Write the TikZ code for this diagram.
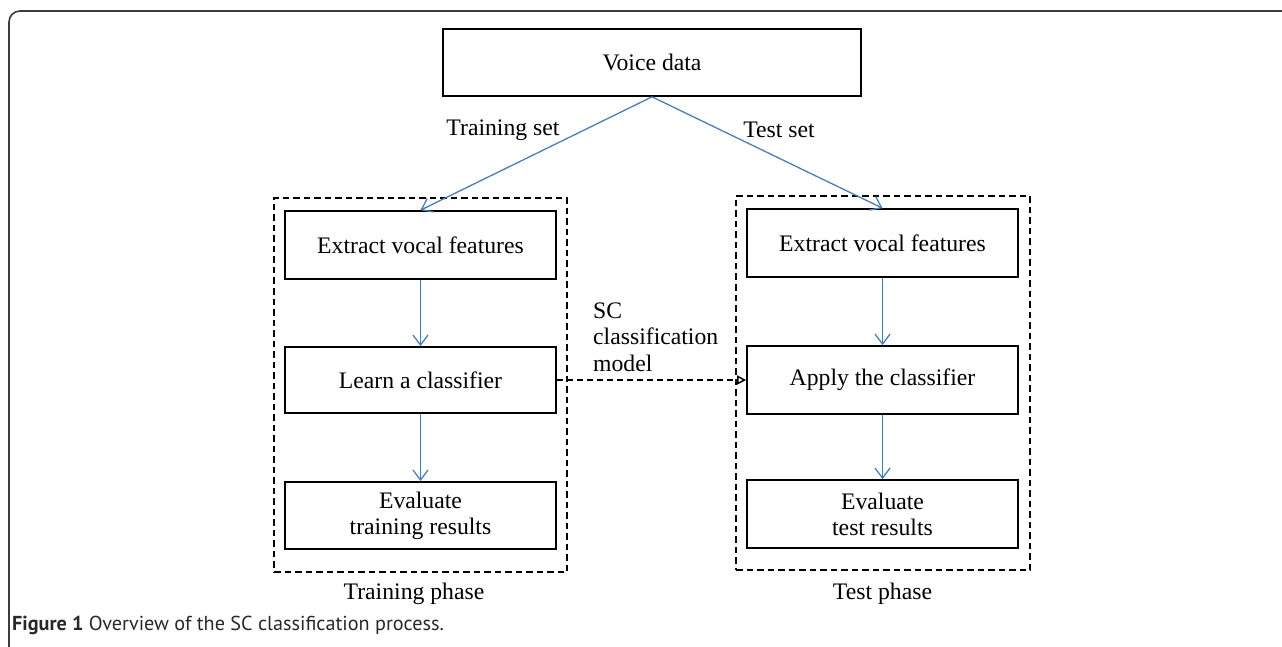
\documentclass[tikz,border=0pt]{standalone}
\usepackage{fontspec}
\setmainfont{Liberation Serif}
\newfontfamily\capfont{PT Sans}
\usetikzlibrary{arrows.meta}
\definecolor{flowblue}{RGB}{74,126,187}
\definecolor{framegray}{RGB}{60,60,60}
\definecolor{captext}{RGB}{40,40,40}
\tikzset{
  stepbox/.style={draw=black, line width=1.7pt, minimum width=271pt, minimum height=67pt,
    inner sep=0pt, align=center, font=\fontsize{23.7}{26}\selectfont},
  phasebox/.style={draw=black, line width=1.8pt, dash pattern=on 6.5pt off 4pt, inner sep=0pt},
  flow/.style={draw=flowblue, line width=1.3pt, -{Straight Barb[length=10pt,width=15pt,line width=1.3pt]}},
  transfer/.style={draw=black, line width=1.5pt, dash pattern=on 6pt off 4pt,
    -{Triangle[open,length=9pt,width=9pt,line width=1.5pt]}},
  lbl/.style={inner sep=0pt, font=\fontsize{23.7}{26.5}\selectfont}
}
\begin{document}
\begin{tikzpicture}[x=1pt,y=-1pt]
\useasboundingbox (0,0) rectangle (1282,647);
% panel frame
\draw[framegray, line width=1.6pt, rounded corners=11pt] (1290,11) -- (9,11) -- (9,655);

% phase frames
\node[phasebox, minimum width=293pt, minimum height=374pt] (trainph) at (420.5,385) {};
\node[phasebox, minimum width=294pt, minimum height=374pt] (testph) at (883,383) {};

% steps
\node[stepbox, minimum width=418pt] (voice) at (652,62.5) {Voice data};
\node[stepbox, minimum height=68pt] (ext1) at (420.5,245) {Extract vocal features};
\node[stepbox, minimum height=66pt] (learn) at (420.5,380) {Learn a classifier};
\node[stepbox] (eval1) at (420.5,515.5) {Evaluate\\training results};
\node[stepbox, minimum height=68pt] (ext2) at (882.5,243) {Extract vocal features};
\node[stepbox, minimum height=68pt] (apply) at (882.5,380) {Apply the classifier};
\node[stepbox, minimum height=68pt] (eval2) at (882.5,514) {Evaluate\\test results};

% connectors
\draw[flow] (voice.south) -- (ext1.north);
\draw[flow] (voice.south) -- (ext2.north);
\draw[flow] (ext1) -- (learn);
\draw[flow] (learn) -- (eval1);
\draw[flow] (ext2) -- (apply);
\draw[flow] (apply) -- (eval2);
\draw[transfer] (learn.east) -- (apply.west);

% labels
\node[lbl] (trset) at (503,130) {Training set};
\node[lbl] (teset) at (779,130) {Test set};
\node[lbl, anchor=west, align=left] (model) at (593,337) {SC\\classification\\model};
\node[lbl] (trname) at (414,594) {Training phase};
\node[lbl] (tename) at (882.5,594) {Test phase};

% caption
\node[anchor=west, inner sep=0pt, text=captext, font=\capfont\fontsize{20.2}{23}\selectfont] (caption) at (12,625)
  {\textbf{Figure 1} Overview of the SC classification process.};
\end{tikzpicture}
\end{document}
